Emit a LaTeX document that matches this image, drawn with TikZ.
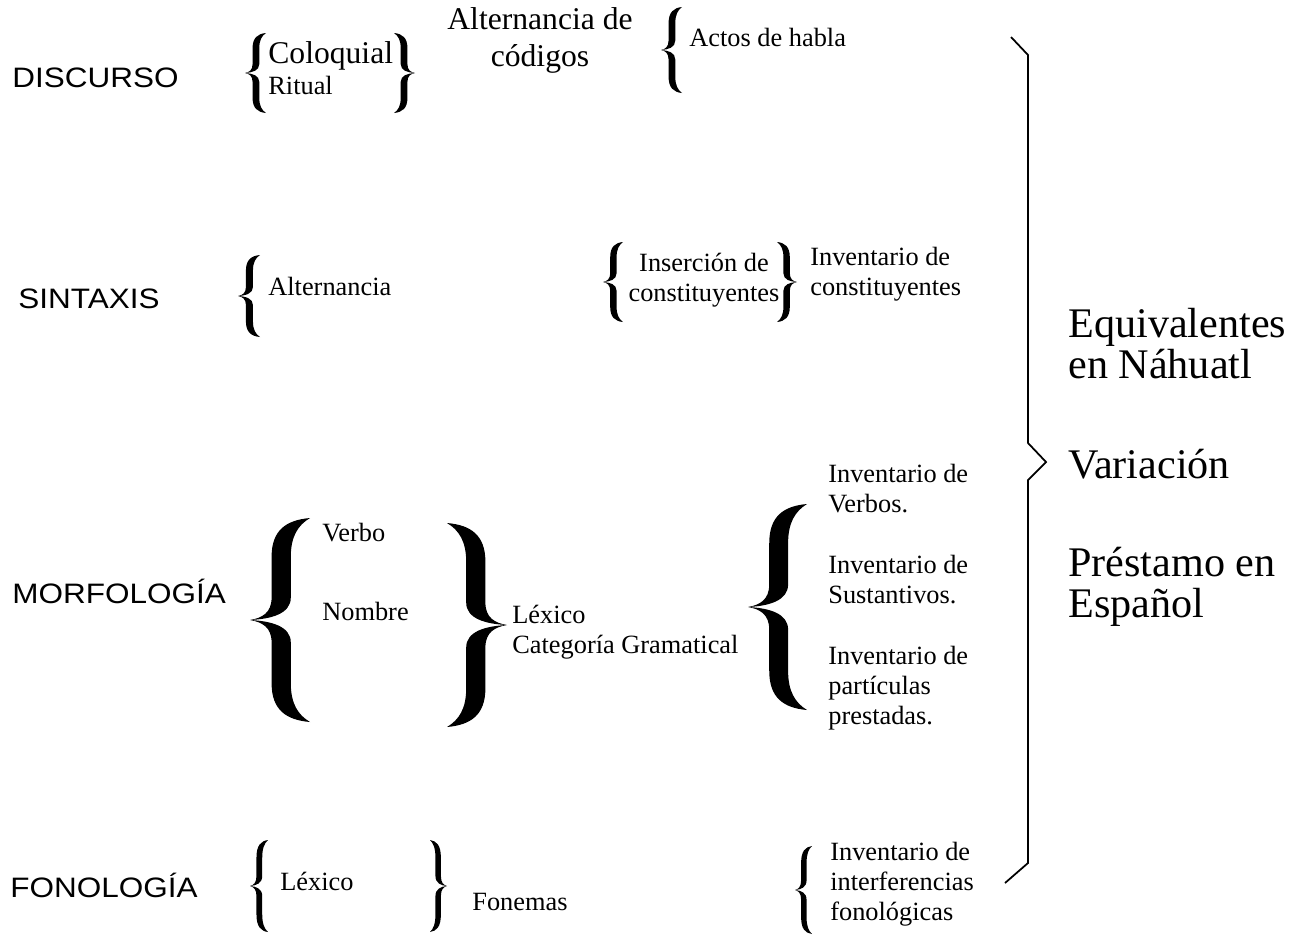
\documentclass[tikz,border=0pt]{standalone}
\usepackage{fontspec}
\setmainfont{Liberation Serif}
\setsansfont{Liberation Sans}
\usetikzlibrary{positioning}
\tikzset{
  nivel/.style={font=\sffamily\fontsize{16}{19}\selectfont, anchor=base west,
                inner sep=0pt, xscale=1.12, transform shape},
  chico/.style={font=\fontsize{15}{17}\selectfont, anchor=base west, inner sep=0pt},
  medio/.style={font=\fontsize{18}{20.5}\selectfont, anchor=base west, inner sep=0pt},
  grande/.style={font=\fontsize{24}{23}\selectfont, anchor=base west, inner sep=0pt},
  llave/.pic={
    \fill (1,1) .. controls (0.6,0.98) and (0.36,0.88) .. (0.36,0.62)
      -- (0.36,0.22) .. controls (0.36,0.07) and (0.2,0.02) .. (0,0)
      .. controls (0.2,-0.02) and (0.36,-0.07) .. (0.36,-0.22)
      -- (0.36,-0.62) .. controls (0.36,-0.88) and (0.6,-0.98) .. (1,-1)
      .. controls (0.8,-0.93) and (0.68,-0.82) .. (0.68,-0.62)
      -- (0.68,-0.22) .. controls (0.68,-0.06) and (0.35,-0.01) .. (0,0)
      .. controls (0.35,0.01) and (0.68,0.06) .. (0.68,0.22)
      -- (0.68,0.62) .. controls (0.68,0.82) and (0.8,0.93) .. (1,1) -- cycle;
  },
}

\begin{document}
\begin{tikzpicture}[x=0.02cm, y=-0.02cm]
  \useasboundingbox (0,0) rectangle (1305,934);

  % Discurso
  \node[nivel] (disc) at (12,87) {DISCURSO};
  \pic[xscale=21, yscale=40] at (245,73) {llave};
  \node[medio] (coloq) at (268,63) {Coloquial};
  \node[chico] (ritual) at (268,94) {Ritual};
  \pic[xscale=-21, yscale=40] at (415,73) {llave};
  \node[medio, align=center, anchor=base] (altcod) at (540,66) {Alternancia de\\códigos};
  \pic[xscale=21, yscale=43] at (661,50) {llave};
  \node[chico] (actos) at (689,46) {Actos de habla};

  % Sintaxis
  \node[nivel] (sint) at (18,308) {SINTAXIS};
  \pic[xscale=22, yscale=41] at (238,296) {llave};
  \node[chico] (altern) at (268,295) {Alternancia};
  \pic[xscale=20, yscale=40] at (603,282) {llave};
  \node[chico, align=center, anchor=base] (inserc) at (704,301) {Inserción de\\constituyentes};
  \pic[xscale=-20, yscale=40] at (797,282) {llave};
  \node[chico, align=left] (invcons) at (810,295) {Inventario de\\constituyentes};

  % Morfologia
  \node[nivel] (morf) at (12,603) {MORFOLOGÍA};
  \pic[xscale=60, yscale=102] at (250,620) {llave};
  \node[chico] (verbo) at (322,541) {Verbo};
  \node[chico] (nombre) at (322,620) {Nombre};
  \pic[xscale=-60, yscale=102] at (507,625) {llave};
  \node[chico, align=left] (lexcat) at (512,653) {Léxico\\Categoría Gramatical};
  \pic[xscale=59, yscale=103] at (748,607) {llave};
  \node[chico, align=left] (invverb) at (828,512) {Inventario de\\Verbos.};
  \node[chico, align=left] (invsust) at (828,603) {Inventario de\\Sustantivos.};
  \node[chico, align=left] (invpart) at (828,724) {Inventario de\\partículas\\prestadas.};

  % Fonologia
  \node[nivel] (fono) at (10,897) {FONOLOGÍA};
  \pic[xscale=18, yscale=46] at (250,886) {llave};
  \node[chico] (lexfon) at (280,890) {Léxico};
  \pic[xscale=-17, yscale=46] at (447,886) {llave};
  \node[chico] (fonemas) at (472,910) {Fonemas};
  \pic[xscale=17, yscale=44] at (795,890) {llave};
  \node[chico, align=left] (invinter) at (830,920) {Inventario de\\interferencias\\fonológicas};

  % llave grande
  \draw[line width=1pt] (1011,37) -- (1028,55) -- (1028,443) -- (1046,462)
    -- (1028,480) -- (1028,863) -- (1005,883);
  \node[grande, align=left] (equiv) at (1068,378) {Equivalentes\\en Náhuatl};
  \node[grande] (variac) at (1068,478) {Variación};
  \node[grande, align=left] (prest) at (1068,617) {Préstamo en\\Español};
\end{tikzpicture}
\end{document}
